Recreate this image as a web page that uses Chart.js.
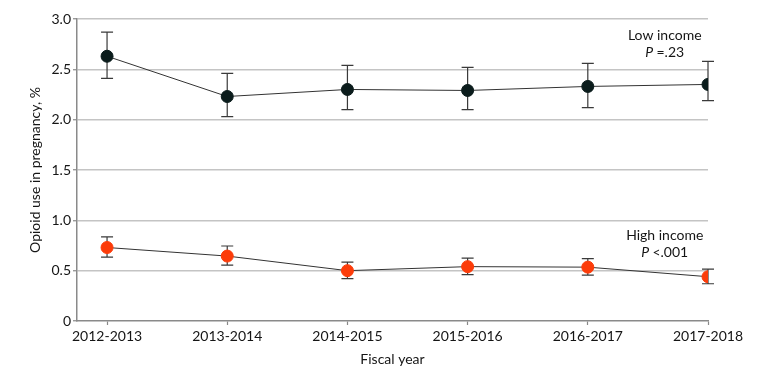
<!DOCTYPE html>
<html>
<head>
<meta charset="utf-8">
<script src="https://cdn.jsdelivr.net/npm/chart.js@4.4.1/dist/chart.umd.min.js"></script>
<style>
html,body{margin:0;padding:0;background:#fff;}
canvas{display:block;}
</style>
</head>
<body>
<canvas id="c" width="783" height="377"></canvas>
<script>
const categories = ['2012-2013','2013-2014','2014-2015','2015-2016','2016-2017','2017-2018'];
const lowIncome = [2.63, 2.23, 2.30, 2.29, 2.33, 2.35];
const lowLower  = [2.41, 2.03, 2.10, 2.10, 2.12, 2.19];
const lowUpper  = [2.87, 2.46, 2.54, 2.52, 2.56, 2.58];
const highIncome = [0.73, 0.645, 0.50, 0.54, 0.535, 0.44];
const highLower  = [0.635, 0.555, 0.42, 0.46, 0.455, 0.37];
const highUpper  = [0.835, 0.745, 0.585, 0.625, 0.62, 0.515];
const yTicks = [0, 0.5, 1.0, 1.5, 2.0, 2.5, 3.0];

const FONT = 'Lato';
const TXT = '#151515';

const errorBars = {
  id: 'errorBars',
  beforeDatasetsDraw(chart) {
    const ctx = chart.ctx;
    const xs = chart.scales.x, ys = chart.scales.y;
    const sets = [[lowLower, lowUpper], [highLower, highUpper]];
    ctx.save();
    ctx.strokeStyle = '#3a3a3a';
    ctx.lineWidth = 1.2;
    sets.forEach(([lo, hi]) => {
      lo.forEach((l, i) => {
        const x = xs.getPixelForValue(i);
        const y1 = ys.getPixelForValue(l), y2 = ys.getPixelForValue(hi[i]);
        ctx.beginPath();
        ctx.moveTo(x, y1); ctx.lineTo(x, y2);
        ctx.moveTo(x - 6, y1); ctx.lineTo(x + 6, y1);
        ctx.moveTo(x - 6, y2); ctx.lineTo(x + 6, y2);
        ctx.stroke();
      });
    });
    ctx.restore();
  }
};

const notes = [
  {label: 'Low income', p: '=.23', x: 4.64, y1: 2.84, y2: 2.67},
  {label: 'High income', p: '<.001', x: 4.64, y1: 0.845, y2: 0.685}
];
const annot = {
  id: 'annot',
  afterDraw(chart) {
    const ctx = chart.ctx;
    const xs = chart.scales.x, ys = chart.scales.y;
    ctx.save();
    ctx.fillStyle = TXT;
    ctx.textBaseline = 'middle';
    notes.forEach(n => {
      const cx = xs.getPixelForValue(n.x);
      ctx.font = '14px ' + FONT;
      ctx.textAlign = 'center';
      ctx.fillText(n.label, cx, ys.getPixelForValue(n.y1));
      ctx.font = 'italic 14px ' + FONT;
      const wP = ctx.measureText('P ').width;
      ctx.font = '14px ' + FONT;
      const wR = ctx.measureText(n.p).width;
      const start = cx - (wP + wR) / 2;
      const y = ys.getPixelForValue(n.y2);
      ctx.textAlign = 'left';
      ctx.font = 'italic 14px ' + FONT;
      ctx.fillText('P ', start, y);
      ctx.font = '14px ' + FONT;
      ctx.fillText(n.p, start + wP, y);
    });
    ctx.restore();
  }
};

new Chart(document.getElementById('c'), {
  type: 'line',
  data: {
    datasets: [
      {
        label: 'Low income',
        data: lowIncome.map((v, i) => ({x: i, y: v})),
        borderColor: '#333',
        borderWidth: 1,
        pointRadius: 6,
        pointBackgroundColor: '#0b1c1c',
        pointBorderColor: '#0b1c1c',
        pointBorderWidth: 1
      },
      {
        label: 'High income',
        data: highIncome.map((v, i) => ({x: i, y: v})),
        borderColor: '#333',
        borderWidth: 1,
        pointRadius: 6,
        pointBackgroundColor: '#fc3c0a',
        pointBorderColor: '#fc3c0a',
        pointBorderWidth: 1
      }
    ]
  },
  options: {
    responsive: false,
    animation: false,
    devicePixelRatio: 1,
    layout: {padding: {left: 0, right: 75, top: 19, bottom: 0}},
    plugins: {legend: {display: false}, tooltip: {enabled: false}},
    scales: {
      x: {
        type: 'linear',
        min: -0.25,
        max: 5,
        afterBuildTicks(scale) { scale.ticks = categories.map((c, i) => ({value: i})); },
        afterFit(scale) { scale.height = 56; },
        ticks: {
          callback: (v) => categories[v],
          color: TXT,
          font: {family: FONT, size: 14},
          padding: 3,
          maxRotation: 0,
          autoSkip: false
        },
        grid: {display: true, drawOnChartArea: false, drawTicks: true, tickLength: 4, tickColor: '#888', tickWidth: 1.2},
        border: {display: true, color: '#8a8a8a', width: 1.5},
        title: {display: true, text: 'Fiscal year', color: TXT, font: {family: FONT, size: 14}, padding: {top: 0, bottom: 9}}
      },
      y: {
        type: 'linear',
        min: 0,
        max: 3,
        afterBuildTicks(scale) { scale.ticks = yTicks.map(v => ({value: v})); },
        afterFit(scale) { scale.width = 77; },
        ticks: {
          callback: (v) => v === 0 ? '0' : v.toFixed(1),
          color: TXT,
          font: {family: FONT, size: 14},
          padding: 2
        },
        grid: {
          color: (c) => c.tick && c.tick.value === 0 ? 'rgba(0,0,0,0)' : '#c4c4c4',
          lineWidth: 1.5,
          drawTicks: true,
          tickLength: 4,
          tickColor: '#888',
          tickWidth: 1.2
        },
        border: {display: true, color: '#8a8a8a', width: 1.5},
        title: {display: true, text: 'Opioid use in pregnancy, %', color: TXT, font: {family: FONT, size: 14}, padding: {top: 27, bottom: 0}}
      }
    }
  },
  plugins: [errorBars, annot]
});
</script>
</body>
</html>
